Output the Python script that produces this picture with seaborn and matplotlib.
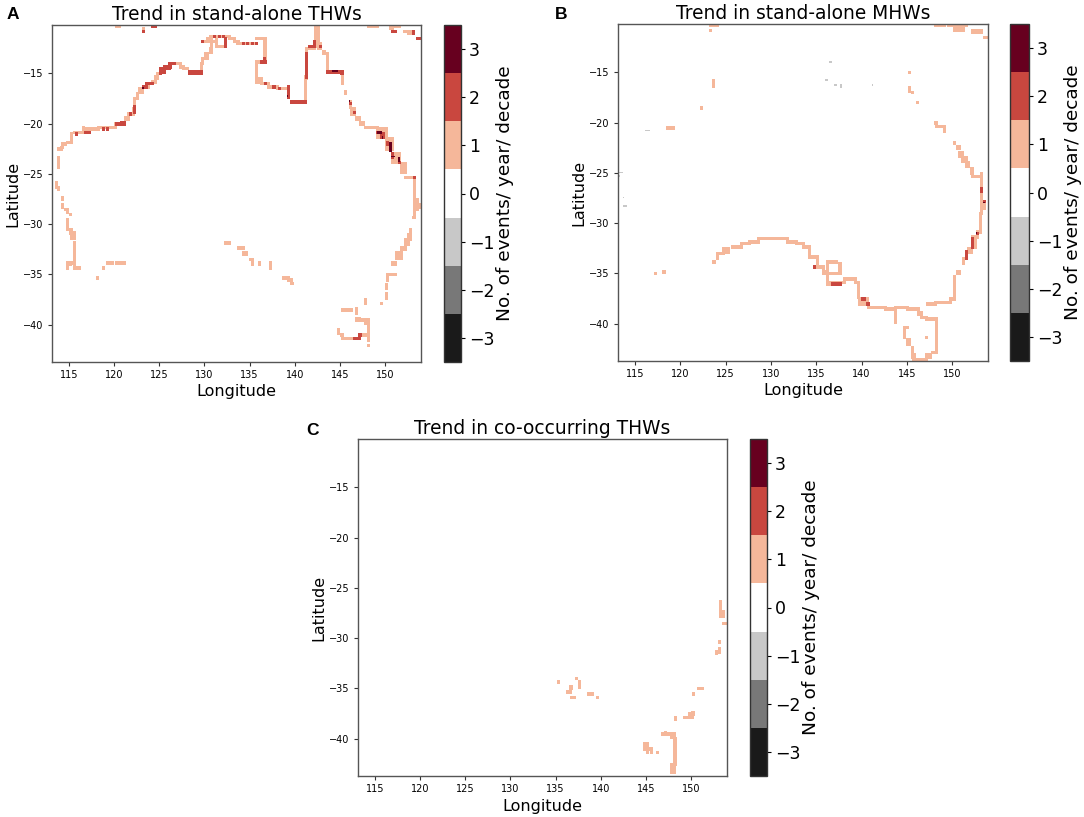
import numpy as np
import pandas as pd
import matplotlib
matplotlib.use("Agg")
import matplotlib.pyplot as plt
from matplotlib.colors import ListedColormap
import seaborn as sns

# Cell runs: (lon_from, lon_to, lat_from, lat_to), inclusive
THW_LEVEL_1 = [
 (120.25,120.5,-10.25,-10.25),(123.25,123.25,-10.5,-10.5),
 (113.5,113.5,-25.75,-26.25),(113.75,113.75,-26.25,-26.5),(113.75,113.75,-23.25,-24.25),(113.75,114,-22.5,-22.5),(114,114.25,-22.25,-22.25),
 (114.25,114.5,-22,-22),(114.75,115,-21.75,-21.75),(115.25,115.25,-21,-21.75),(115.5,116.5,-20.75,-20.75),(116.5,118.25,-20.5,-20.5),
 (116.5,116.5,-20.25,-20.5),(118.25,120,-20.25,-20.25),(120,120.5,-20,-20),(120.75,121,-19.75,-19.75),(121.25,121.5,-19.25,-19.5),
 (121.5,122,-19,-19),(122,122.25,-18.5,-18.75),(122.25,122.25,-17.5,-18.25),(122.5,122.5,-17,-17.5),(122.75,123,-16.5,-16.75),
 (123.25,123.75,-16.25,-16.25),(124.25,124.5,-15.75,-15.75),(124.5,124.75,-15.25,-15.5),(124.75,125,-15,-15),
 (126.5,127.25,-14,-14),(127.25,127.5,-14.25,-14.25),(127.5,128,-14.5,-14.5),
 (129.5,129.5,-14,-14.75),(129.75,129.75,-13.5,-14),(130,130.25,-13,-13.5),(130.5,130.75,-12.5,-12.75),(130.75,130.75,-12,-12.5),
 (130,131,-11.75,-11.75),(130.5,132.75,-11.25,-11.25),(130.25,130.75,-11.5,-11.5),(131.25,131.25,-11.5,-12.25),(131.25,132.25,-12.25,-12.25),
 (132.75,133.25,-11.5,-11.5),(133.25,133.75,-11.75,-11.75),(133.5,135.75,-12,-12),(135.75,136.75,-11.5,-11.5),(136.5,136.75,-11.5,-13.5),
 (136,136.75,-13.75,-13.75),(135.75,135.75,-13.75,-15.5),(135.75,136.25,-15.5,-15.75),(136.25,137,-16,-16),(137,138,-16.25,-16.25),
 (138,139.25,-16.5,-16.5),(139.25,139.25,-16.25,-17),(141,141,-15.25,-17.75),(141.25,141.25,-12.75,-15.5),(141.25,142,-12.5,-12.5),(142,142.25,-12,-12.25),
 (142.25,142.5,-10.25,-12),(142.5,142.75,-12,-12.5),(143,143.25,-12.75,-13),(143.5,143.5,-13,-14.5),(145.25,145.25,-15,-16),
 (145.5,145.5,-16.75,-17),(146,146,-17.75,-18.25),(146.25,146.5,-18.5,-19),(146.75,147,-19.25,-19.5),(147.25,147.5,-19.75,-20),
 (147.75,149,-20.25,-20.25),(149,150,-20.5,-21.25),(150,150.75,-21.5,-22.5),(150.75,151.5,-23,-23.75),(151.75,152.25,-24,-24.75),
 (152.25,153.25,-25.25,-25.25),(153.25,153.25,-25.25,-29.25),(153.5,153.5,-27.5,-28.5),(153.75,153.75,-28,-28.25),(153,153,-29.25,-29.25),
 (148,149,-10.25,-10.25),(150.5,151.5,-10.25,-10.25),(150.5,150.75,-10.5,-10.5),(152,153,-10.75,-10.75),(152.5,153,-11,-11),
 (114.25,114.25,-27.25,-27.5),(114.25,114.25,-28,-28.25),(114.5,114.75,-28.5,-28.5),(114.75,114.75,-28.75,-28.75),(115,115,-29,-29),
 (114.75,114.75,-29.5,-30.5),(115,115.25,-30.5,-30.75),(115.25,115.5,-30.75,-31.25),(115.5,115.5,-31.75,-34.25),(114.75,115.5,-33.75,-33.75),
 (114.75,114.75,-33.75,-34.25),(115,115,-33.75,-34),(115.5,116,-34.25,-34.25),(118,118,-35.25,-35.25),(118.75,118.75,-34.25,-34.25),
 (119.25,119.75,-33.75,-33.75),(120.25,121,-33.75,-33.75),
 (132.25,132.75,-31.75,-31.75),(133.75,134.25,-32.25,-32.25),(134.25,134.5,-32.75,-33),(134.5,134.5,-33,-33),(135,135.25,-33.5,-33.5),(135.25,135.25,-33.75,-34),
 (136,136,-33.75,-34),(137.25,137.25,-33.75,-34.25),(138.75,139.25,-35.25,-35.25),(139.25,139.5,-35.5,-35.5),(139.5,139.75,-35.75,-35.75),
 (152.75,152.75,-30.5,-31),(152.5,152.75,-31,-31.5),(152.25,152.5,-31.5,-32),(151.75,152.25,-32.25,-32.5),(151.25,151.75,-32.75,-33.25),
 (150.75,151,-33.75,-34),(150.25,151,-35,-35),(150.25,150.25,-35,-35.5),(150,150,-36,-36.25),(150,150,-36.75,-37.25),(149.5,149.5,-37.75,-37.75),
 (147.75,147.75,-37.5,-37.75),(146.75,146.75,-38.25,-38.75),(145.25,146.25,-38.5,-38.5),(146.75,148,-39.5,-39.5),(146.75,147,-39.25,-39.25),(147.75,148,-39.75,-39.75),
 (148,148,-40,-41.5),(148,148,-42,-42),(144.75,144.75,-40.5,-40.75),(145,145.25,-41,-41),(145.25,146.25,-41.25,-41.25),(147.25,147.75,-41,-41),
]
THW_LEVEL_2 = [
 (123.25,123.25,-10.75,-10.75),(124.25,124.5,-10.25,-10.25),(115.75,115.75,-21,-21),(116.75,117.25,-20.75,-20.75),(118.75,118.75,-20.5,-20.5),
 (119.25,119.25,-20.5,-20.5),(120.25,121,-20,-20),(120.75,121,-19.75,-19.75),(121.75,121.75,-19,-19),(122.25,122.25,-18.25,-18.75),
 (123.5,124.25,-16,-16),(123.25,123.5,-16.25,-16.25),(125,125,-15,-15),(125,126,-14.5,-14.5),(125,125.5,-14.75,-14.75),(125.5,126.25,-14.25,-14.25),(126,126.5,-14,-14),
 (128.25,129.5,-14.75,-15),(129.75,129.75,-11.75,-11.75),(131,131,-11.25,-11.25),(131.5,131.5,-11.25,-11.25),(132,132,-11.25,-11.25),(132.25,132.25,-11.5,-12.25),
 (134.25,134.25,-12,-12),(134.75,134.75,-12,-12),(135.25,135.25,-12,-12),(135.75,135.75,-12,-12),(136.25,136.75,-13.75,-13.75),(136.5,136.5,-13.5,-13.5),
 (136.75,136.75,-16,-16),(137.5,137.75,-16.25,-16.25),(138.25,138.25,-16.5,-16.5),(139.25,139.25,-16.25,-17.25),(139.5,141,-17.75,-17.75),
 (141.25,141.25,-13,-15.25),(141.5,142,-12.25,-12.25),(142,142,-11.75,-12.25),(142.75,142.75,-12.25,-12.25),(143.5,145.25,-14.75,-14.75),(145,145.25,-15,-15),
 (146,146,-18,-18),(146.5,146.5,-18.75,-18.75),(149,149.25,-20.75,-20.75),(149.5,149.75,-21,-21.25),(150.25,150.25,-21.75,-22),(150.75,150.75,-23,-23.25),
 (151.5,151.5,-23.75,-23.75),(153.25,153.25,-25.25,-25.25),(146.5,147,-41.25,-41.25),(147,147.25,-41,-41),(150.75,151,-10.75,-10.75),(153,153,-10.75,-11),(153.5,153.75,-11.5,-11.5),
]
THW_LEVEL_3 = [
 (123.25,123.25,-16.5,-16.5),(139.25,139.25,-17.25,-17.25),(144.25,144.75,-14.75,-14.75),(146,146,-17.75,-17.75),(149.25,149.5,-20.75,-21),
 (149.75,149.75,-21.25,-21.5),(150.5,150.75,-22,-22.75),(150.75,151,-23.25,-23.25),(151.5,151.5,-23.5,-23.75),
]
MHW_LEVEL_1 = [
 (123.25,124,-10.25,-10.25),(123.25,123.25,-10.75,-10.75),(123.5,123.5,-15.75,-16.25),(122.25,122.25,-18.5,-18.5),(118.5,119.25,-20.5,-20.5),
 (117.25,117.25,-35,-35),(118,118.25,-34.75,-34.75),(148,149,-10.25,-10.25),(149.5,151.5,-10.25,-10.25),(150.25,151.25,-10.5,-10.75),(152.25,153.25,-10.75,-11),(153.5,153.75,-11.5,-11.5),
 (145.25,145.25,-15,-15),(145.25,145.25,-16.5,-16.75),(145.5,145.5,-17,-17),(146,146,-18,-18),(148,148.25,-20,-20),(148.25,149,-20.25,-20.25),(149,149,-20.5,-20.75),
 (150.25,150.25,-22,-22),(150.5,150.75,-22.25,-22.5),(150.75,151,-23,-23.25),(151,151.5,-23.5,-23.75),(151.5,151.75,-24,-24.25),(152,152.25,-24.5,-25),(152.25,153.25,-25.25,-25.25),
 (153.25,153.25,-25,-28.75),(153.5,153.5,-28,-28.5),(153.25,153.25,-28.75,-29),(153,153,-29,-30.75),(152.75,152.75,-30.75,-31.25),(152.25,152.5,-31.25,-32.25),(151.75,152,-32.5,-32.75),
 (151.5,151.5,-32.75,-33.5),(151.25,151.25,-33.5,-34),(150.5,150.75,-34.75,-35),(150.25,150.25,-35.25,-37.25),(149.75,150.25,-37.5,-37.5),(148,149.75,-37.75,-37.75),(147.25,148,-38,-38),
 (123.5,123.75,-33.75,-33.75),(124,124,-33,-33.5),(124,124.75,-33,-33),(124.75,125.25,-32.5,-32.75),(125.75,126.75,-32.25,-32.25),(126.75,127.5,-32,-32),(127.5,128.5,-31.75,-31.75),
 (128.5,131.75,-31.5,-31.5),(131.75,132.75,-31.75,-31.75),(132.75,133.5,-32,-32),(133.5,134.25,-32.25,-32.25),(134.25,134.25,-32.5,-33.25),(134.25,135,-33.25,-33.25),(135,135,-33.25,-34.25),
 (134.75,135.75,-34.25,-34.25),(135.75,135.75,-34.25,-34.75),(135.75,136.25,-34.75,-35),(136.25,136.25,-35,-35.75),(136.25,137.25,-35.75,-36),(136.25,137.5,-35,-35),(136.25,136.25,-33.75,-35),
 (136.25,137.25,-33.75,-33.75),(137.5,137.5,-34,-35),(137.5,138,-35.75,-35.75),(138,139.25,-35.5,-35.5),(139.25,139.5,-35.75,-35.75),(139.5,139.5,-36,-37.25),(139.75,140.5,-37.5,-38),
 (140.75,142.5,-38.25,-38.25),(142.5,143.5,-38.5,-38.5),(143.75,143.75,-38.25,-39.75),(143.75,145,-38.25,-38.25),(145,146.25,-38.5,-38.5),(146.25,146.5,-38.75,-39),(146.5,147,-39.25,-39.25),
 (147,148.25,-39.5,-39.5),(148.25,148.25,-39.5,-42.5),(147.75,148.25,-42.75,-42.75),(147,147.5,-43.25,-43),(145.75,147,-43.5,-43.5),(145.5,145.75,-43,-43.25),(145.5,145.5,-42.25,-43),
 (145,145.25,-41.5,-42),(144.75,144.75,-40.25,-41.25),(145,145,-40.25,-40.25),(147,147,-41.25,-41.25),
]
MHW_LEVEL_2 = [
 (153.25,153.25,-26.5,-26.75),(153.5,153.5,-27.75,-27.75),(152.75,152.75,-31,-31),(152.25,152.25,-31.5,-32.25),(151.5,151.5,-32.75,-33.5),
 (134.75,134.75,-34.25,-34.25),(136.75,137.5,-36,-36),(140,140.25,-37.5,-37.5),(140.5,140.75,-38,-38),
]
MHW_LEVEL_3 = [(153.5,153.5,-28,-28),(152.75,152.75,-31,-31)]
MHW_LEVEL_NEG1 = [
 (116.25,116.5,-20.75,-20.75),(113.25,113.5,-25,-25),(113.25,113.25,-25.25,-25.25),(113.75,113.75,-27.5,-27.5),(113.75,114,-28.25,-28.25),(136.5,136.75,-14,-14),(136,136.25,-15.75,-15.75),
 (137,137.25,-16.25,-16.25),(137.75,137.75,-16.25,-16.5),(141.25,141.25,-16.25,-16.25),
]
CO_LEVEL_1 = [
 (135.25,135.25,-34.25,-34.25),(137.25,137.25,-34,-34),(137.5,137.5,-34.25,-34.75),(136.5,136.75,-34.75,-35),(136.25,136.5,-35.25,-35.25),(136.75,137,-35.75,-35.75),
 (138.5,139,-35.5,-35.5),(139.5,139.5,-35.75,-35.75),(150.75,151.25,-35,-35),(150.25,150.25,-35.5,-35.5),(150,150.25,-37.25,-37.5),(149.75,150,-37.5,-37.75),(149.25,149.5,-37.75,-37.75),
 (148.25,148.25,-37.75,-38),(146.75,148,-39.5,-39.5),(147,147,-39.25,-39.25),(147.75,148,-39.75,-39.75),(148,148.25,-40,-42.25),(148,148.25,-42.25,-42.5),(147.75,148,-42.5,-43.25),
 (144.75,145,-40.5,-41),(145,145,-41.25,-41.25),(145.25,145.5,-41,-41),(145.5,145.5,-41.25,-41.25),(146.25,146.25,-41.25,-41.25),
 (153.25,153.25,-26.25,-27.25),(153.25,153.5,-27.25,-27.75),(153.5,153.75,-28.5,-28.5),(153,153,-30.25,-30.25),(153,153,-31,-31.25),(152.75,152.75,-31.25,-31.5),
]

STEP = 1 / 6
LON_CENTRES = 113.125 + STEP / 2 + STEP * np.arange(245)
LAT_CENTRES = -10.2 - STEP / 2 - STEP * np.arange(201)
LON_TICKS = [115, 120, 125, 130, 135, 140, 145, 150]
LAT_TICKS = [-15, -20, -25, -30, -35, -40]
BAR_TICKS = [-3, -2, -1, 0, 1, 2, 3]
BAR_COLOURS = ["#1a1a1a", "#787878", "#c8c8c8", "#ffffff", "#f5b79a", "#c9473f", "#67001f"]
TITLES = ["Trend in stand-alone THWs", "Trend in stand-alone MHWs", "Trend in co-occurring THWs"]
PANEL_LETTERS = ["A", "B", "C"]
BAR_LABEL = "No. of events/ year/ decade"


def build_frame(layers):
    grid = np.zeros((len(LAT_CENTRES), len(LON_CENTRES)))
    for level, runs in layers:
        extra = 2 if level in (1, 2) else 1
        for lon0, lon1, lat0, lat1 in runs:
            i0, i1 = sorted((int(round((LAT_CENTRES[0] - lat0) / STEP)), int(round((LAT_CENTRES[0] - lat1) / STEP))))
            j0, j1 = sorted((int(round((lon0 - LON_CENTRES[0]) / STEP)), int(round((lon1 - LON_CENTRES[0]) / STEP))))
            grid[i0:i1 + extra, j0:j1 + extra] = level
    return pd.DataFrame(grid, index=LAT_CENTRES, columns=LON_CENTRES)


frames = [
    build_frame([(1, THW_LEVEL_1), (2, THW_LEVEL_2), (3, THW_LEVEL_3)]),
    build_frame([(1, MHW_LEVEL_1), (-1, MHW_LEVEL_NEG1), (2, MHW_LEVEL_2), (3, MHW_LEVEL_3)]),
    build_frame([(1, CO_LEVEL_1)]),
]

W, H = 1084, 817
fig = plt.figure(figsize=(W / 100, H / 100), dpi=100, facecolor="white")


def axes_px(x0, x1, y0, y1):
    return fig.add_axes([x0 / W, 1 - y1 / H, (x1 - x0) / W, (y1 - y0) / H])


map_boxes = [(52, 421, 25, 362), (618, 988, 24, 361), (358, 727, 439, 776)]
bar_boxes = [(444, 461, 25, 362), (1010, 1029, 24, 361), (750, 767, 439, 776)]
letter_pos = [(7, 19), (555, 19), (306, 435)]
cmap = ListedColormap(BAR_COLOURS)

for frame, mb, bb, title, letter, lp in zip(frames, map_boxes, bar_boxes, TITLES, PANEL_LETTERS, letter_pos):
    ax = axes_px(*mb)
    cax = axes_px(*bb)
    sns.heatmap(frame, ax=ax, cbar_ax=cax, cmap=cmap, vmin=-3.5, vmax=3.5,
                xticklabels=False, yticklabels=False, cbar_kws={"ticks": BAR_TICKS})
    ax.set_xticks([(v - LON_CENTRES[0]) / STEP + 0.5 for v in LON_TICKS])
    ax.set_xticklabels([str(v) for v in LON_TICKS], rotation=0)
    ax.set_yticks([(LAT_CENTRES[0] - v) / STEP + 0.5 for v in LAT_TICKS])
    ax.set_yticklabels(["\u2212" + str(-v) for v in LAT_TICKS], rotation=0)
    ax.tick_params(labelsize=7, length=3, width=0.8, color="#333333", pad=3)
    for s in ax.spines.values():
        s.set_visible(True)
        s.set_linewidth(1.0)
        s.set_color("#555555")
    ax.set_xlabel("Longitude", fontsize=11.5, labelpad=3)
    ax.set_ylabel("Latitude", fontsize=11.5, labelpad=2)
    ax.set_title(title, fontsize=13.4, pad=3.5)
    cb = ax.collections[0].colorbar
    cb.outline.set_visible(True)
    cb.outline.set_linewidth(1.0)
    cb.outline.set_edgecolor("#333333")
    cax.tick_params(labelsize=12.5, length=3, width=0.8, pad=2.5)
    cax.set_yticklabels(["\u2212" + str(-v) if v < 0 else str(v) for v in BAR_TICKS])
    cb.set_label(BAR_LABEL, fontsize=13.3, labelpad=1)
    fig.text(lp[0] / W, 1 - lp[1] / H, letter, fontsize=12.5, fontweight="bold", family="Liberation Sans")

fig.savefig("out.png", dpi=100)
